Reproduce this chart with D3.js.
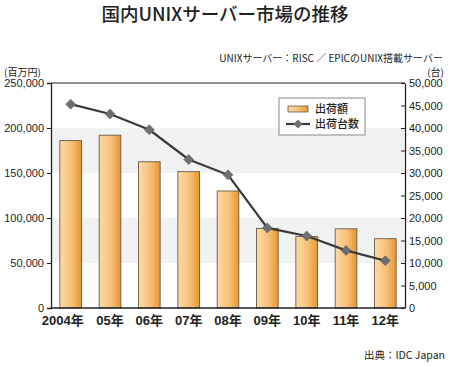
<!DOCTYPE html>
<html><head><meta charset="utf-8">
<script src="https://cdn.jsdelivr.net/npm/d3@7/dist/d3.min.js"></script>
<style>
body{margin:0;background:#fff;}
text{font-family:"Liberation Sans","Noto Sans CJK JP",sans-serif;}
</style></head>
<body>
<svg id="chart" width="450" height="367"></svg>
<script>
const categories = ["2004年","05年","06年","07年","08年","09年","10年","11年","12年"];
const shipmentValue = [186000,192000,162500,151500,130000,88500,79500,88000,77000];
const shipmentUnits = [45300,43100,39600,33000,29600,17800,16000,12800,10500];
const leftTicks = [0,50000,100000,150000,200000,250000];
const rightTicks = [0,5000,10000,15000,20000,25000,30000,35000,40000,45000,50000];
const bandRanges = [[50000,100000],[150000,200000]];

const svg = d3.select("#chart");
const m = {l:51, r:405, t:83, b:308};
const x = d3.scaleBand().domain(categories).range([m.l, m.r]).paddingInner(0.45).paddingOuter(0.225);
const yL = d3.scaleLinear().domain([0,250000]).range([m.b, m.t]);
const yR = d3.scaleLinear().domain([0,50000]).range([m.b, m.t]);
const fmt = d3.format(",");

const defs = svg.append("defs");
const g = defs.append("linearGradient").attr("id","barGrad").attr("x1","0").attr("x2","1").attr("y1","0").attr("y2","0");
g.append("stop").attr("offset","0%").attr("stop-color","#fddaa6");
g.append("stop").attr("offset","55%").attr("stop-color","#f7c079");
g.append("stop").attr("offset","100%").attr("stop-color","#e8952f");

// title
svg.append("text").attr("x",225).attr("y",21).attr("text-anchor","middle")
  .style("font-family","'Noto Sans CJK JP',sans-serif").style("font-size","18.5px").style("font-weight","500")
  .attr("fill","#222").text("国内UNIXサーバー市場の推移");
svg.append("text").attr("x",443).attr("y",61.5).attr("text-anchor","end")
  .style("font-family","'Noto Sans CJK JP',sans-serif").style("font-size","10px")
  .attr("fill","#222").text("UNIXサーバー：RISC ／ EPICのUNIX搭載サーバー");
svg.append("text").attr("x",4).attr("y",75.5)
  .style("font-family","'Noto Sans CJK JP',sans-serif").style("font-size","10px").attr("fill","#222").text("(百万円)");
svg.append("text").attr("x",444).attr("y",75.5).attr("text-anchor","end")
  .style("font-family","'Noto Sans CJK JP',sans-serif").style("font-size","10px").attr("fill","#222").text("(台)");

// bands
svg.append("g").selectAll("rect").data(bandRanges).join("rect")
  .attr("x",m.l+1).attr("width",m.r-m.l-2)
  .attr("y",d=>yL(d[1])).attr("height",d=>yL(d[0])-yL(d[1]))
  .attr("fill","#f1f2f2");

// bars
svg.append("g").selectAll("rect").data(categories).join("rect")
  .attr("x",d=>x(d)).attr("width",x.bandwidth())
  .attr("y",(d,i)=>yL(shipmentValue[i])).attr("height",(d,i)=>yL(0)-yL(shipmentValue[i]))
  .attr("fill","url(#barGrad)").attr("stroke","#6a5a4a").attr("stroke-width",0.9);

// frame
svg.append("line").attr("x1",m.l).attr("x2",m.r).attr("y1",m.t).attr("y2",m.t).attr("stroke","#222").attr("stroke-width",1.2);
svg.append("line").attr("x1",m.l).attr("x2",m.r).attr("y1",m.b).attr("y2",m.b).attr("stroke","#222").attr("stroke-width",1.4);

// left axis
const axL = svg.append("g").attr("transform",`translate(${m.l},0)`)
  .call(d3.axisLeft(yL).tickValues(leftTicks).tickFormat(fmt).tickSize(4).tickPadding(3));
axL.select(".domain").attr("stroke","#222").attr("stroke-width",1.3);
axL.selectAll(".tick line").attr("stroke","#222");
axL.selectAll("text").style("font-size","11px").attr("fill","#222").attr("font-family",null);

// right axis (inward ticks)
const axR = svg.append("g").attr("transform",`translate(${m.r},0)`)
  .call(d3.axisRight(yR).tickValues(rightTicks).tickFormat(fmt).tickSize(0).tickPadding(4));
axR.select(".domain").attr("stroke","#222").attr("stroke-width",1.3);
axR.selectAll(".tick line").attr("x1",-4).attr("x2",0).attr("stroke","#222");
axR.selectAll("text").style("font-size","11px").attr("fill","#222").attr("font-family",null);

// x labels
const axX = svg.append("g").attr("transform",`translate(0,${m.b})`)
  .call(d3.axisBottom(x).tickSize(0).tickPadding(8));
axX.select(".domain").remove();
axX.selectAll("text").style("font-size","13px").style("font-weight","bold").attr("fill","#222").attr("font-family",null)
  .attr("dx",(d,i)=>i===0?-8:0);

// line
const line = d3.line().x((d,i)=>x(categories[i])+x.bandwidth()/2).y(d=>yR(d));
svg.append("path").datum(shipmentUnits).attr("d",line).attr("fill","none").attr("stroke","#3a3a3a").attr("stroke-width",2.2);
svg.append("g").selectAll("path").data(shipmentUnits).join("path")
  .attr("transform",(d,i)=>`translate(${x(categories[i])+x.bandwidth()/2},${yR(d)}) rotate(45)`)
  .attr("d",d3.symbol().type(d3.symbolSquare).size(50))
  .attr("fill","#6f6f6f").attr("stroke","#555").attr("stroke-width",0.5);

// legend
const lg = svg.append("g");
lg.append("rect").attr("x",279).attr("y",98).attr("width",86).attr("height",37).attr("fill","#fff").attr("stroke","#8a8a8a").attr("stroke-width",1);
lg.append("rect").attr("x",288).attr("y",106).attr("width",20).attr("height",6).attr("fill","url(#barGrad)").attr("stroke","#6a5a4a").attr("stroke-width",0.8);
lg.append("line").attr("x1",286).attr("x2",310).attr("y1",124).attr("y2",124).attr("stroke","#3a3a3a").attr("stroke-width",2.2);
lg.append("path").attr("transform","translate(298,124) rotate(45)").attr("d",d3.symbol().type(d3.symbolSquare).size(40)).attr("fill","#6f6f6f");
lg.append("text").attr("x",315).attr("y",113).style("font-family","'Noto Sans CJK JP',sans-serif").style("font-size","11px").style("font-weight","500").attr("fill","#222").text("出荷額");
lg.append("text").attr("x",315).attr("y",128).style("font-family","'Noto Sans CJK JP',sans-serif").style("font-size","11px").style("font-weight","500").attr("fill","#222").text("出荷台数");

// source
svg.append("text").attr("x",445).attr("y",359).attr("text-anchor","end")
  .style("font-family","'Noto Sans CJK JP',sans-serif").style("font-size","10.5px").attr("fill","#222").text("出典：IDC Japan");
</script>
</body></html>
